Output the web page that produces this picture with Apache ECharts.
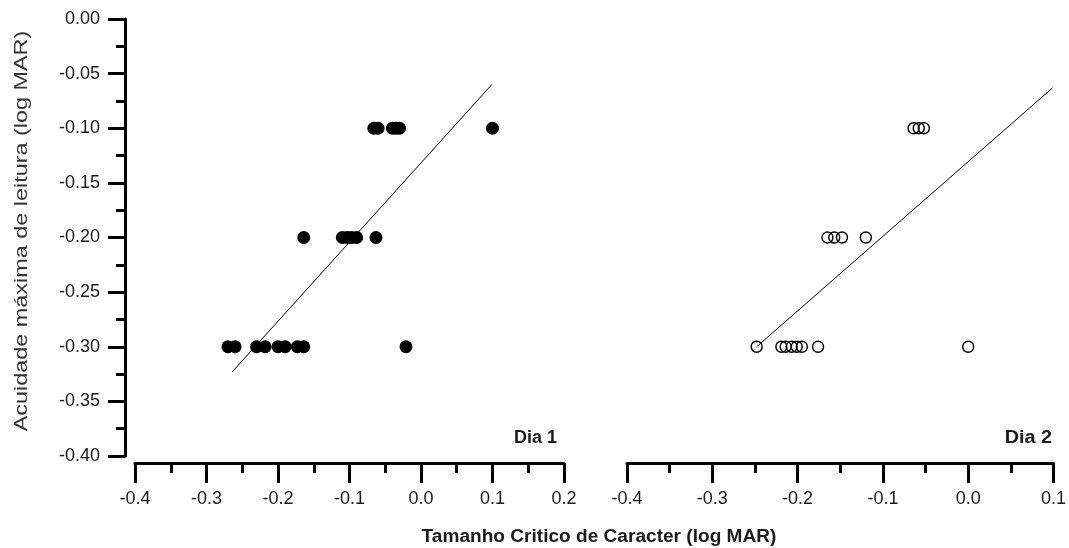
<!DOCTYPE html>
<html>
<head>
<meta charset="utf-8">
<script src="https://cdn.jsdelivr.net/npm/echarts@6/dist/echarts.min.js"></script>
<style>
  html, body { margin: 0; padding: 0; background: #fff; }
  #chart { width: 1069px; height: 548px; }
</style>
</head>
<body>
<div id="chart"></div>
<script>
// Day 1: critical print size (x) vs. maximum reading acuity (y), log MAR
const dia1X = [-0.066, -0.060, -0.040, -0.035, -0.030, 0.100,
               -0.164, -0.110, -0.103, -0.097, -0.090, -0.063,
               -0.270, -0.260, -0.230, -0.218, -0.200, -0.190, -0.173, -0.164, -0.021];
const dia1Y = [-0.10, -0.10, -0.10, -0.10, -0.10, -0.10,
               -0.20, -0.20, -0.20, -0.20, -0.20, -0.20,
               -0.30, -0.30, -0.30, -0.30, -0.30, -0.30, -0.30, -0.30, -0.30];

// Day 2
const dia2X = [-0.064, -0.058, -0.052, 0.102,
               -0.165, -0.157, -0.148, -0.120,
               -0.248, -0.219, -0.214, -0.207, -0.201, -0.195, -0.176, 0.000];
const dia2Y = [-0.10, -0.10, -0.10, -0.10,
               -0.20, -0.20, -0.20, -0.20,
               -0.30, -0.30, -0.30, -0.30, -0.30, -0.30, -0.30, -0.30];

// Fitted regression lines (start and end points)
const fit1X = [-0.264, 0.099];
const fit1Y = [-0.323, -0.060];
const fit2X = [-0.248, 0.099];
const fit2Y = [-0.300, -0.063];

// Axis ranges and tick steps
const yMin = -0.40, yMax = 0.00, yStep = 0.05;
const x1Min = -0.4, x1Max = 0.2;
const x2Min = -0.4, x2Max = 0.1;
const xStep = 0.1;

const labels = { dia1: 'Dia 1', dia2: 'Dia 2' };
const xTitle = 'Tamanho Critico de Caracter (log MAR)';
const yTitle = 'Acuidade máxima de leitura (log MAR)';

const pairs = (xs, ys) => xs.map((x, i) => [x, ys[i]]);

const FONT = '"Liberation Sans", Arial, sans-serif';
const INK = '#1a1a1a';
const AX_W = 3;

const xAxisBase = (min, max, gridIndex) => ({
  type: 'value', gridIndex, min, max, interval: xStep,
  offset: 7,
  axisLine: { show: true, onZero: false, lineStyle: { color: '#000', width: AX_W } },
  axisTick: { show: true, inside: false, length: 20, lineStyle: { color: '#000', width: AX_W } },
  minorTick: { show: true, splitNumber: 2, length: 10, lineStyle: { color: '#000', width: AX_W } },
  splitLine: { show: false },
  axisLabel: {
    margin: 27, color: INK, fontFamily: FONT, fontSize: 18,
    formatter: v => v.toFixed(1)
  }
});

const chart = echarts.init(document.getElementById('chart'), null, { renderer: 'canvas' });

chart.setOption({
  animation: false,
  backgroundColor: '#fff',
  grid: [
    { left: 135, right: 1069 - 564, top: 19, bottom: 548 - 456 },
    { left: 627, right: 1069 - 1056, top: 19, bottom: 548 - 456 }
  ],
  xAxis: [xAxisBase(x1Min, x1Max, 0), xAxisBase(x2Min, x2Max, 1)],
  yAxis: [
    {
      type: 'value', gridIndex: 0, min: yMin, max: yMax, interval: yStep,
      offset: 10,
      axisLine: { show: true, onZero: false, lineStyle: { color: '#000', width: AX_W } },
      axisTick: { show: true, inside: false, length: 17, lineStyle: { color: '#000', width: AX_W } },
      minorTick: { show: true, splitNumber: 2, length: 9, lineStyle: { color: '#000', width: AX_W } },
      splitLine: { show: false },
      axisLabel: {
        margin: 25, color: INK, fontFamily: FONT, fontSize: 18,
        formatter: v => v.toFixed(2)
      }
    },
    {
      type: 'value', gridIndex: 1, min: yMin, max: yMax, interval: yStep,
      show: false
    }
  ],
  series: [
    {
      type: 'line', xAxisIndex: 0, yAxisIndex: 0,
      data: pairs(fit1X, fit1Y), showSymbol: false, symbol: 'none',
      lineStyle: { color: '#000', width: 1 }, z: 2
    },
    {
      type: 'line', xAxisIndex: 1, yAxisIndex: 1,
      data: pairs(fit2X, fit2Y), showSymbol: false, symbol: 'none',
      lineStyle: { color: '#000', width: 1 }, z: 2
    },
    {
      type: 'scatter', xAxisIndex: 0, yAxisIndex: 0,
      data: pairs(dia1X, dia1Y), symbol: 'circle', symbolSize: 13,
      itemStyle: { color: '#000', opacity: 1 }, z: 3
    },
    {
      type: 'scatter', xAxisIndex: 1, yAxisIndex: 1,
      data: pairs(dia2X, dia2Y), symbol: 'circle', symbolSize: 11,
      itemStyle: { color: 'rgba(255,255,255,0)', borderColor: '#000', borderWidth: 1.4, opacity: 1 }, z: 3
    }
  ],
  graphic: [
    {
      type: 'text', x: 557, y: 438,
      style: { text: labels.dia1, font: 'bold 18px ' + FONT, fill: INK, align: 'right', verticalAlign: 'middle' }
    },
    {
      type: 'text', x: 1052, y: 438, scaleX: 1.1,
      style: { text: labels.dia2, font: 'bold 18px ' + FONT, fill: INK, align: 'right', verticalAlign: 'middle' }
    },
    {
      type: 'text', x: 599, y: 537, scaleX: 1.06,
      style: { text: xTitle, font: 'bold 18px ' + FONT, fill: INK, align: 'center', verticalAlign: 'middle' }
    },
    {
      type: 'text', x: 22, y: 231, rotation: Math.PI / 2, scaleX: 1.3,
      style: { text: yTitle, font: '18px ' + FONT, fill: '#333', align: 'center', verticalAlign: 'middle' }
    }
  ]
});
</script>
</body>
</html>
